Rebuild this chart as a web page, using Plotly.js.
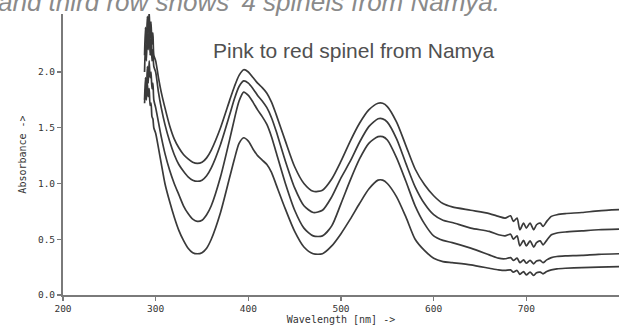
<!DOCTYPE html>
<html>
<head>
<meta charset="utf-8">
<script src="https://cdn.plot.ly/plotly-3.0.1.min.js"></script>
<style>html,body{margin:0;padding:0;background:#fff;}#chart{width:619px;height:325px;}</style>
</head>
<body>
<div id="chart"></div>
<script>
// Wavelength samples (nm)
const wavelength = [288,289,290,291,292,293,294,295,296,297,298,300,303,306,310,315,320,325,330,335,340,345,350,355,360,370,380,385,390,395,400,405,410,415,420,425,430,440,450,460,470,480,490,500,510,520,530,540,545,550,560,570,580,590,600,610,620,640,660,670,677,683,686,690,693,697,700,704,708,711,715,718,722,727,733,742,760,778,800];

// Absorbance, spinel 1 (top curve)
const spinel1 = [2.15,2.40,2.25,2.50,2.35,2.55,2.30,2.45,2.25,2.35,2.15,2.10,1.95,1.82,1.68,1.52,1.40,1.32,1.26,1.22,1.19,1.18,1.19,1.23,1.30,1.50,1.75,1.87,1.97,2.02,2.00,1.95,1.90,1.86,1.81,1.73,1.62,1.38,1.15,1.00,0.93,0.94,1.04,1.20,1.38,1.54,1.66,1.72,1.72,1.69,1.55,1.34,1.13,0.99,0.89,0.82,0.79,0.76,0.73,0.705,0.69,0.71,0.66,0.69,0.585,0.645,0.60,0.645,0.585,0.63,0.645,0.615,0.66,0.705,0.72,0.73,0.74,0.755,0.765];

// Absorbance, spinel 2
const spinel2 = [2.00,2.25,2.10,2.35,2.20,2.40,2.15,2.30,2.10,2.20,2.05,2.00,1.82,1.68,1.53,1.38,1.26,1.17,1.11,1.06,1.03,1.02,1.03,1.07,1.14,1.35,1.62,1.76,1.87,1.92,1.90,1.85,1.79,1.74,1.68,1.59,1.47,1.20,0.96,0.80,0.74,0.76,0.88,1.05,1.20,1.37,1.51,1.58,1.58,1.55,1.40,1.18,0.97,0.82,0.72,0.67,0.65,0.60,0.57,0.54,0.53,0.545,0.50,0.53,0.44,0.49,0.44,0.485,0.43,0.47,0.485,0.45,0.49,0.54,0.556,0.565,0.575,0.585,0.59];

// Absorbance, spinel 3
const spinel3 = [1.75,1.95,1.80,2.05,1.90,2.10,1.95,2.00,1.85,1.90,1.75,1.68,1.55,1.42,1.27,1.12,1.00,0.90,0.80,0.73,0.68,0.66,0.67,0.72,0.80,1.06,1.40,1.58,1.74,1.82,1.79,1.73,1.66,1.60,1.53,1.42,1.28,1.00,0.76,0.60,0.53,0.53,0.62,0.82,1.03,1.22,1.36,1.42,1.42,1.39,1.23,1.02,0.80,0.64,0.53,0.49,0.47,0.42,0.36,0.33,0.325,0.335,0.31,0.33,0.29,0.315,0.285,0.31,0.28,0.305,0.31,0.29,0.315,0.335,0.345,0.35,0.355,0.365,0.37];

// Absorbance, spinel 4 (bottom curve)
const spinel4 = [1.72,1.85,1.75,1.90,1.78,1.85,1.70,1.72,1.60,1.58,1.50,1.45,1.32,1.18,1.00,0.84,0.70,0.58,0.49,0.42,0.38,0.37,0.38,0.42,0.50,0.74,1.06,1.22,1.36,1.41,1.38,1.31,1.25,1.21,1.17,1.10,0.99,0.77,0.57,0.43,0.37,0.37,0.44,0.55,0.68,0.82,0.95,1.03,1.03,1.00,0.88,0.70,0.50,0.40,0.33,0.30,0.29,0.27,0.24,0.225,0.22,0.225,0.205,0.22,0.185,0.21,0.18,0.205,0.175,0.20,0.205,0.19,0.21,0.225,0.235,0.24,0.245,0.25,0.255];

const xTickVals = [200,300,400,500,600,700];
const xTickText = ["200","300","400","500","600","700"];
const yTickVals = [0,0.5,1.0,1.5,2.0];
const yTickText = ["0.0","0.5","1.0","1.5","2.0"];

const seriesList = [spinel1, spinel2, spinel3, spinel4];
const traces = seriesList.map((s, i) => ({
  x: wavelength, y: s, type: 'scatter', mode: 'lines',
  name: 'Spinel ' + (i + 1),
  line: {color: '#3a3a3a', width: 1.7, shape: 'spline', smoothing: 0.7},
  hoverinfo: 'skip'
}));

const tickFont = {family: 'DejaVu Sans Mono', size: 9.5, color: '#333'};
const layout = {
  width: 619, height: 325,
  margin: {l: 63, r: 0, t: 14, b: 30},
  paper_bgcolor: '#fff', plot_bgcolor: '#fff',
  showlegend: false,
  xaxis: {
    range: [200, 800], showgrid: false, zeroline: false,
    showline: true, linecolor: '#7a7a7a', linewidth: 2,
    ticks: 'outside', ticklen: 4, tickcolor: '#7a7a7a', tickwidth: 1.5,
    tickvals: xTickVals, ticktext: xTickText, tickfont: tickFont,
    title: {text: 'Wavelength [nm] ->', font: {family: 'DejaVu Sans Mono', size: 10, color: '#333'}, standoff: 2}
  },
  yaxis: {
    range: [0, 2.52], showgrid: false, zeroline: false,
    showline: true, linecolor: '#7a7a7a', linewidth: 2,
    ticks: 'outside', ticklen: 4, tickcolor: '#7a7a7a', tickwidth: 1.5,
    tickvals: yTickVals, ticktext: yTickText, tickfont: tickFont,
    title: {text: 'Absorbance ->', font: {family: 'DejaVu Sans Mono', size: 10, color: '#333'}, standoff: 9}
  },
  annotations: [
    {text: 'Pink to red spinel from Namya', xref: 'paper', yref: 'paper',
     x: (354 - 63) / 556, y: 1 - (50 - 14) / 281, xanchor: 'center', yanchor: 'middle',
     showarrow: false, font: {family: 'Liberation Sans, Arial', size: 21, color: '#505050'}},
    {text: '<i>and third row shows \'4 spinels from Namya.</i>', xref: 'paper', yref: 'paper',
     x: (-4 - 63) / 556, y: 1 + (14 - 2) / 281, xanchor: 'left', yanchor: 'middle',
     showarrow: false, font: {family: 'Liberation Sans, Arial', size: 26, color: '#8a8a8a'}}
  ]
};

Plotly.newPlot('chart', traces, layout, {staticPlot: true, displayModeBar: false});
</script>
</body>
</html>
